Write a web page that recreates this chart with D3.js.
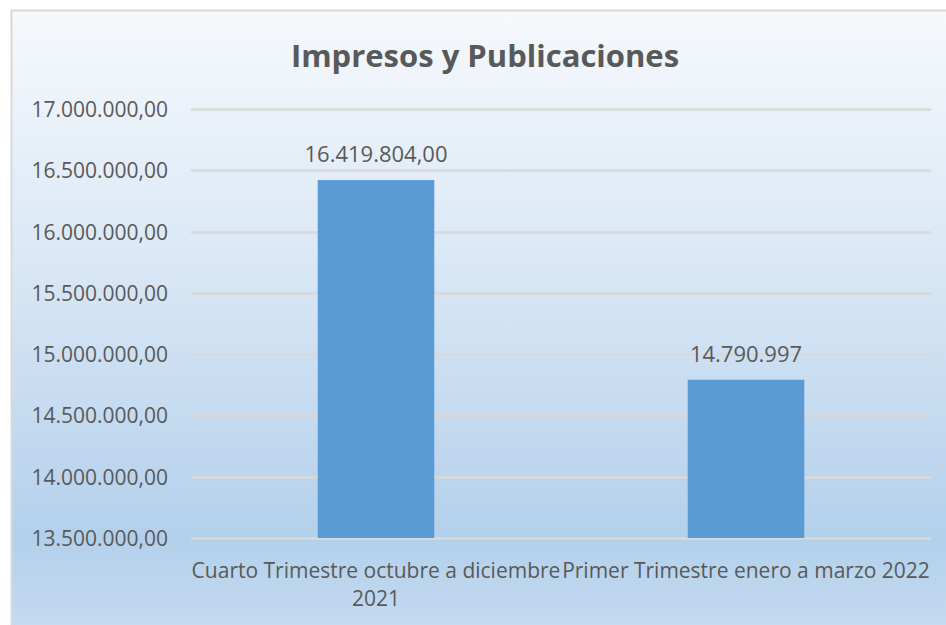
<!DOCTYPE html>
<html>
<head>
<meta charset="utf-8">
<script src="https://cdn.jsdelivr.net/npm/d3@7"></script>
<style>
  html, body { margin: 0; padding: 0; background: #ffffff; }
  svg { display: block; }
  text { font-family: "Open Sans", sans-serif; fill: #595959; }
</style>
</head>
<body>
<div id="chart"></div>
<script>
// chart data
const categories = ["Cuarto Trimestre octubre a diciembre 2021", "Primer Trimestre enero a marzo 2022"];
const categoryLines = [["Cuarto Trimestre octubre a diciembre", "2021"], ["Primer Trimestre enero a marzo 2022"]];
const values = [16419804, 14790997];
const valueLabels = ["16.419.804,00", "14.790.997"];
const yTicks = [13500000, 14000000, 14500000, 15000000, 15500000, 16000000, 16500000, 17000000];
const title = "Impresos y Publicaciones";

const width = 946, height = 625;
const margin = { top: 109, right: 15, bottom: 87, left: 191 };

const svg = d3.select("#chart").append("svg")
  .attr("width", width)
  .attr("height", height);

// background gradient like the office chart area
const defs = svg.append("defs");
const grad = defs.append("linearGradient")
  .attr("id", "bg").attr("x1", 0).attr("y1", 0).attr("x2", 0).attr("y2", 1);
grad.append("stop").attr("offset", "0%").attr("stop-color", "#f6f9fc");
grad.append("stop").attr("offset", "40%").attr("stop-color", "#d9e7f5");
grad.append("stop").attr("offset", "82%").attr("stop-color", "#b3d0eb");
grad.append("stop").attr("offset", "100%").attr("stop-color", "#cadef2");

svg.append("rect")
  .attr("x", 11.5).attr("y", 10.5)
  .attr("width", width).attr("height", height + 20)
  .attr("fill", "url(#bg)")
  .attr("stroke", "#d9d9d9")
  .attr("stroke-width", 2);

const x = d3.scaleBand()
  .domain(categories)
  .range([margin.left, width - margin.right])
  .paddingInner(0.685)
  .paddingOuter(0.3425);

const y = d3.scaleLinear()
  .domain([13500000, 17000000])
  .range([height - margin.bottom, margin.top]);

const fmt = d => d3.format(",.2f")(d).replace(/,/g, "#").replace(".", ",").replace(/#/g, ".");

// gridlines
svg.append("g")
  .selectAll("line")
  .data(yTicks)
  .join("line")
  .attr("x1", margin.left)
  .attr("x2", width - margin.right)
  .attr("y1", d => Math.round(y(d)) + 0.5)
  .attr("y2", d => Math.round(y(d)) + 0.5)
  .attr("stroke", "#d9d9d9")
  .attr("stroke-width", 2.5);

// y axis labels
const yAxis = svg.append("g")
  .attr("transform", `translate(${margin.left - 23},0)`)
  .call(d3.axisLeft(y).tickValues(yTicks).tickFormat(fmt).tickSize(0).tickPadding(0));
yAxis.select(".domain").remove();
yAxis.selectAll("text")
  .attr("font-family", "Open Sans, sans-serif")
  .attr("font-size", "21px")
  .attr("fill", "#595959")
  .attr("dy", "0.36em");

// bars
svg.append("g")
  .selectAll("rect")
  .data(values)
  .join("rect")
  .attr("x", (d, i) => x(categories[i]))
  .attr("y", d => y(d))
  .attr("width", x.bandwidth())
  .attr("height", d => y(13500000) - y(d))
  .attr("fill", "#5b9bd5");

// value labels
svg.append("g")
  .selectAll("text")
  .data(values)
  .join("text")
  .attr("x", (d, i) => x(categories[i]) + x.bandwidth() / 2)
  .attr("y", d => y(d) - 18)
  .attr("text-anchor", "middle")
  .attr("font-size", "22px")
  .text((d, i) => valueLabels[i]);

// category labels
const xl = svg.append("g")
  .selectAll("text")
  .data(categories)
  .join("text")
  .attr("text-anchor", "middle")
  .attr("font-size", "21px")
  .attr("y", y(13500000) + 40);
xl.each(function(d, i) {
  const t = d3.select(this);
  const cx = x(d) + x.bandwidth() / 2;
  categoryLines[i].forEach((line, j) => {
    t.append("tspan")
      .attr("x", cx)
      .attr("dy", j === 0 ? 0 : 28)
      .text(line);
  });
});

// title
svg.append("text")
  .attr("x", 485)
  .attr("y", 67)
  .attr("text-anchor", "middle")
  .attr("font-size", "31px")
  .attr("font-weight", "bold")
  .text(title);
</script>
</body>
</html>
